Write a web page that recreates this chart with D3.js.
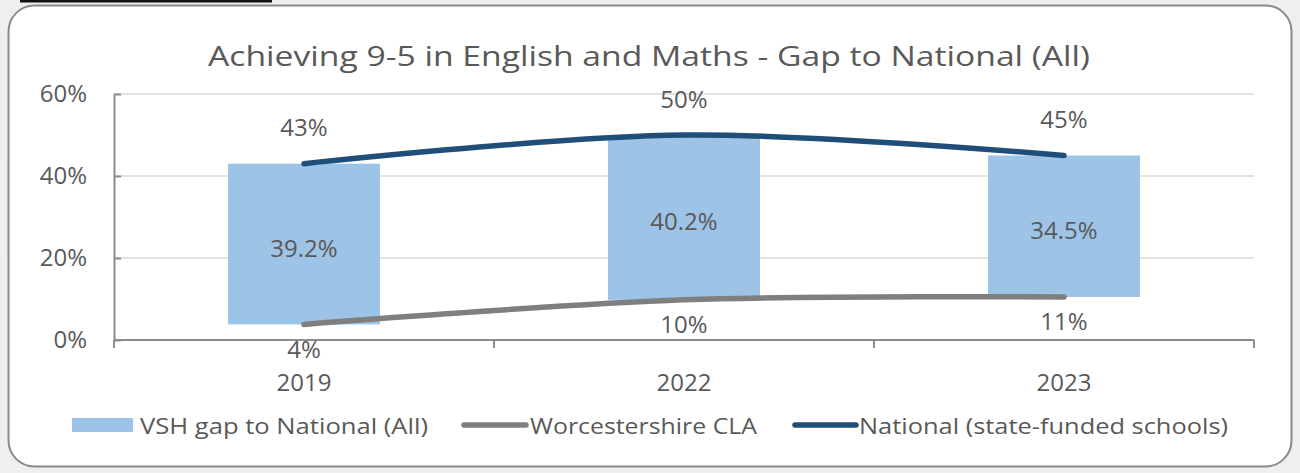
<!DOCTYPE html>
<html>
<head>
<meta charset="utf-8">
<script src="https://cdn.jsdelivr.net/npm/d3@7"></script>
<style>
  html, body { margin: 0; padding: 0; background: #efefef; }
  svg { display: block; }
  text { font-family: "Open Sans", "Noto Sans", sans-serif; fill: #595959; }
</style>
</head>
<body>
<svg id="chart" width="1300" height="473"></svg>
<script>
// Attainment data: share of pupils achieving grades 9-5 in English and Maths
const categories = ["2019", "2022", "2023"];
const nationalAll = [43.0, 50.0, 45.0];       // National (state-funded schools)
const worcsCLA = [3.8, 9.8, 10.5];            // Worcestershire CLA
const vshGap = [39.2, 40.2, 34.5];            // VSH gap to National (All)
const yTicks = [0, 20, 40, 60];

const titleText = "Achieving 9-5 in English and Maths - Gap to National (All)";
const legendLabels = ["VSH gap to National (All)", "Worcestershire CLA", "National (state-funded schools)"];

const colors = { bar: "#9dc3e6", cla: "#7f7f7f", national: "#1f4e79", grid: "#d9d9d9", axis: "#8c8c8c" };

const svg = d3.select("#chart");

// Partial underline of a heading above the chart panel
svg.append("rect").attr("x", 20).attr("y", 0).attr("width", 252).attr("height", 2.5).attr("fill", "#111");

// Rounded chart panel
svg.append("rect")
  .attr("x", 8.5).attr("y", 5.5).attr("width", 1283).attr("height", 461)
  .attr("rx", 26).attr("ry", 26)
  .attr("fill", "#ffffff").attr("stroke", "#8a8a8a").attr("stroke-width", 2);

// Title
svg.append("text")
  .attr("x", 649).attr("y", 55)
  .attr("text-anchor", "middle").attr("dominant-baseline", "central")
  .attr("font-size", 28)
  .attr("textLength", 882).attr("lengthAdjust", "spacingAndGlyphs")
  .text(titleText);

const plot = { left: 114, right: 1254, top: 94, bottom: 340 };

const x = d3.scaleBand().domain(categories).range([plot.left, plot.right]).paddingInner(0).paddingOuter(0);
const y = d3.scaleLinear().domain([0, 60]).range([plot.bottom, plot.top]);
const barW = x.bandwidth() * 0.4;
const cx = c => x(c) + x.bandwidth() / 2;

// Horizontal gridlines
svg.append("g").selectAll("line").data(yTicks.filter(t => t > 0)).join("line")
  .attr("x1", plot.left).attr("x2", plot.right)
  .attr("y1", d => y(d)).attr("y2", d => y(d))
  .attr("stroke", colors.grid).attr("stroke-width", 1.5);

// Y axis with inside ticks
const yAxis = svg.append("g").attr("transform", `translate(${plot.left},0)`)
  .call(d3.axisLeft(y).tickValues(yTicks).tickFormat(d => d + "%").tickSizeInner(-7).tickSizeOuter(0).tickPadding(27));
yAxis.select(".domain").attr("stroke", colors.axis).attr("stroke-width", 2);
yAxis.selectAll(".tick line").attr("stroke", colors.axis).attr("stroke-width", 2);
yAxis.selectAll(".tick text").attr("font-size", 24).attr("fill", "#595959").style("font-family", '"Open Sans", sans-serif');

// Floating bars: from Worcestershire CLA up by the gap to National
const barData = categories.map((c, i) => ({ c, base: worcsCLA[i], gap: vshGap[i] }));
svg.append("g").selectAll("rect").data(barData).join("rect")
  .attr("x", d => cx(d.c) - barW / 2)
  .attr("width", barW)
  .attr("y", d => y(d.base + d.gap))
  .attr("height", d => y(d.base) - y(d.base + d.gap))
  .attr("fill", colors.bar);

// X axis line with category boundary ticks
svg.append("line").attr("x1", plot.left).attr("x2", plot.right)
  .attr("y1", plot.bottom).attr("y2", plot.bottom)
  .attr("stroke", colors.axis).attr("stroke-width", 2);
const bounds = categories.map(c => x(c)).concat([plot.right]);
svg.append("g").selectAll("line").data(bounds).join("line")
  .attr("x1", d => d).attr("x2", d => d)
  .attr("y1", plot.bottom).attr("y2", plot.bottom + 8)
  .attr("stroke", colors.axis).attr("stroke-width", 2);
svg.append("g").selectAll("text").data(categories).join("text")
  .attr("x", d => cx(d)).attr("y", 381)
  .attr("text-anchor", "middle").attr("dominant-baseline", "central")
  .attr("font-size", 24)
  .text(d => d);

// Smoothed lines
const line = d3.line().x(d => cx(d.c)).y(d => y(d.v)).curve(d3.curveCatmullRom.alpha(0));
const series = [
  { name: "cla", values: worcsCLA, color: colors.cla },
  { name: "national", values: nationalAll, color: colors.national }
];
svg.append("g").selectAll("path").data(series).join("path")
  .attr("d", s => line(categories.map((c, i) => ({ c, v: s.values[i] }))))
  .attr("fill", "none").attr("stroke", s => s.color)
  .attr("stroke-width", 5.5).attr("stroke-linecap", "round");

// Data labels
const pct0 = v => Math.round(v) + "%";
const pct1 = v => d3.format(".1f")(v) + "%";
svg.append("g").selectAll("text").data(categories).join("text")
  .attr("x", d => cx(d)).attr("y", (d, i) => y(nationalAll[i]) - 37)
  .attr("text-anchor", "middle").attr("dominant-baseline", "central").attr("font-size", 24)
  .text((d, i) => pct0(nationalAll[i]));
svg.append("g").selectAll("text").data(categories).join("text")
  .attr("x", d => cx(d)).attr("y", (d, i) => y(worcsCLA[i]) + 24)
  .attr("text-anchor", "middle").attr("dominant-baseline", "central").attr("font-size", 24)
  .text((d, i) => pct0(worcsCLA[i]));
svg.append("g").selectAll("text").data(barData).join("text")
  .attr("x", d => cx(d.c)).attr("y", d => y(d.base + d.gap / 2) + 3)
  .attr("text-anchor", "middle").attr("dominant-baseline", "central").attr("font-size", 24)
  .attr("fill", "#44546a")
  .text(d => pct1(d.gap));

// Legend
const lg = svg.append("g");
const legendY = 425;
lg.append("rect").attr("x", 72).attr("y", legendY - 7).attr("width", 61).attr("height", 14).attr("fill", colors.bar);
lg.append("line").attr("x1", 464).attr("x2", 526).attr("y1", legendY).attr("y2", legendY)
  .attr("stroke", colors.cla).attr("stroke-width", 5.5).attr("stroke-linecap", "round");
lg.append("line").attr("x1", 795).attr("x2", 856).attr("y1", legendY).attr("y2", legendY)
  .attr("stroke", colors.national).attr("stroke-width", 5.5).attr("stroke-linecap", "round");
const legendText = [
  { x: 140, w: 288 },
  { x: 530, w: 227 },
  { x: 859, w: 369 }
];
lg.selectAll("text").data(legendLabels).join("text")
  .attr("x", (d, i) => legendText[i].x).attr("y", legendY)
  .attr("dominant-baseline", "central").attr("font-size", 22)
  .attr("textLength", (d, i) => legendText[i].w).attr("lengthAdjust", "spacingAndGlyphs")
  .text(d => d);
</script>
</body>
</html>
